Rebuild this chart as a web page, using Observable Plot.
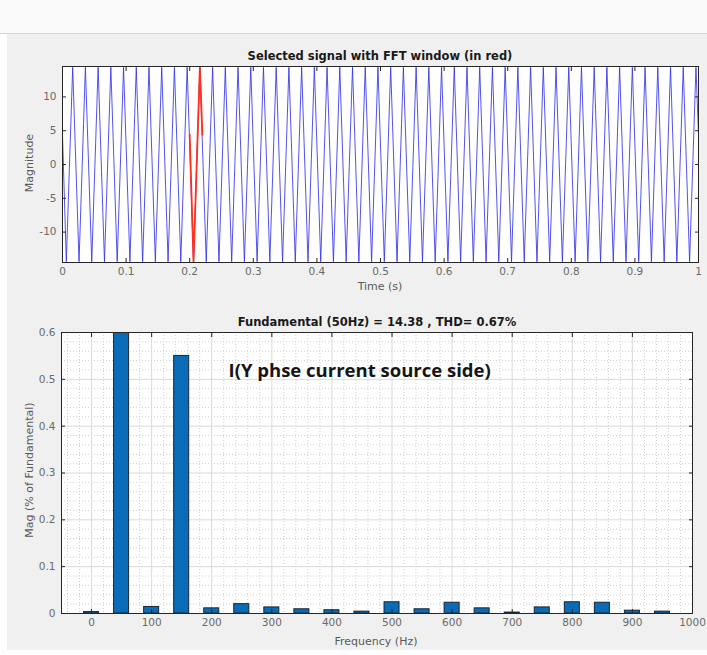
<!DOCTYPE html>
<html><head><meta charset="utf-8">
<script src="https://cdn.jsdelivr.net/npm/d3@7"></script>
<script src="https://cdn.jsdelivr.net/npm/@observablehq/plot@0.6"></script>
<style>
html,body{margin:0;padding:0;background:#fff;}
#fig{position:relative;width:707px;height:655px;overflow:hidden;background:#fff;font-family:"DejaVu Sans",Arial,sans-serif;}
#toolbar{position:absolute;left:0;top:0;width:707px;height:33px;background:#f9f9f9;border-bottom:1px solid #d6d6d6;}
#panel{position:absolute;left:7px;top:34px;width:700px;height:616px;background:#f0f0f0;}
.plot{position:absolute;left:0;}
.title{position:absolute;font-weight:bold;font-size:11.5px;color:#1a1a1a;white-space:nowrap;transform:translate(-50%,-50%);}
.xlabel{position:absolute;font-size:11px;color:#5a5a5a;transform:translate(-50%,-50%);white-space:nowrap;}
.ylabel{position:absolute;font-size:11px;color:#5a5a5a;white-space:nowrap;transform:translate(-50%,-50%) rotate(-90deg);}
</style></head>
<body>
<div id="fig">
  <div id="toolbar"></div>
  <div id="panel"></div>
  <div id="topPlot" class="plot" style="top:40px"></div>
  <div id="botPlot" class="plot" style="top:300px"></div>
  <div class="title" style="left:380px;top:56px">Selected signal with FFT window (in red)</div>
  <div class="xlabel" style="left:380px;top:286px">Time (s)</div>
  <div class="ylabel" style="left:29px;top:163px">Magnitude</div>
  <div class="title" style="left:377px;top:322px">Fundamental (50Hz) = 14.38 , THD= 0.67%</div>
  <div class="xlabel" style="left:376px;top:641px">Frequency (Hz)</div>
  <div class="ylabel" style="left:29px;top:470px">Mag (% of Fundamental)</div>
</div>
<script>
// ---- Top plot: selected signal (vertices of the 50 Hz waveform)
const signalTime = [0,
  0.006, 0.016, 0.026, 0.036, 0.046, 0.056, 0.066, 0.076, 0.086, 0.096,
  0.106, 0.116, 0.126, 0.136, 0.146, 0.156, 0.166, 0.176, 0.186, 0.196,
  0.206, 0.216, 0.226, 0.236, 0.246, 0.256, 0.266, 0.276, 0.286, 0.296,
  0.306, 0.316, 0.326, 0.336, 0.346, 0.356, 0.366, 0.376, 0.386, 0.396,
  0.406, 0.416, 0.426, 0.436, 0.446, 0.456, 0.466, 0.476, 0.486, 0.496,
  0.506, 0.516, 0.526, 0.536, 0.546, 0.556, 0.566, 0.576, 0.586, 0.596,
  0.606, 0.616, 0.626, 0.636, 0.646, 0.656, 0.666, 0.676, 0.686, 0.696,
  0.706, 0.716, 0.726, 0.736, 0.746, 0.756, 0.766, 0.776, 0.786, 0.796,
  0.806, 0.816, 0.826, 0.836, 0.846, 0.856, 0.866, 0.876, 0.886, 0.896,
  0.906, 0.916, 0.926, 0.936, 0.946, 0.956, 0.966, 0.976, 0.986, 0.996,
  1];
const signalValue = [4.4,
  -14.38, 14.38, -14.38, 14.38, -14.38, 14.38, -14.38, 14.38, -14.38, 14.38,
  -14.38, 14.38, -14.38, 14.38, -14.38, 14.38, -14.38, 14.38, -14.38, 14.38,
  -14.38, 14.38, -14.38, 14.38, -14.38, 14.38, -14.38, 14.38, -14.38, 14.38,
  -14.38, 14.38, -14.38, 14.38, -14.38, 14.38, -14.38, 14.38, -14.38, 14.38,
  -14.38, 14.38, -14.38, 14.38, -14.38, 14.38, -14.38, 14.38, -14.38, 14.38,
  -14.38, 14.38, -14.38, 14.38, -14.38, 14.38, -14.38, 14.38, -14.38, 14.38,
  -14.38, 14.38, -14.38, 14.38, -14.38, 14.38, -14.38, 14.38, -14.38, 14.38,
  -14.38, 14.38, -14.38, 14.38, -14.38, 14.38, -14.38, 14.38, -14.38, 14.38,
  -14.38, 14.38, -14.38, 14.38, -14.38, 14.38, -14.38, 14.38, -14.38, 14.38,
  -14.38, 14.38, -14.38, 14.38, -14.38, 14.38, -14.38, 14.38, -14.38, 14.38,
  4.4];
const windowTime = [0.2, 0.206, 0.216, 0.22];
const windowValue = [4.4, -14.38, 14.38, 4.4];
const timeTicks = [0, 0.1, 0.2, 0.3, 0.4, 0.5, 0.6, 0.7, 0.8, 0.9, 1];
const timeTickLabels = ["0", "0.1", "0.2", "0.3", "0.4", "0.5", "0.6", "0.7", "0.8", "0.9", "1"];
const magTicks = [-10, -5, 0, 5, 10];
const magTickLabels = ["-10", "-5", "0", "5", "10"];

// ---- Bottom plot: FFT harmonics (% of fundamental)
const freqs = [0, 50, 100, 150, 200, 250, 300, 350, 400, 450, 500, 550, 600, 650, 700, 750, 800, 850, 900, 950];
const mags  = [0.003, 100, 0.014, 0.55, 0.011, 0.02, 0.013, 0.009, 0.007, 0.004, 0.024, 0.009, 0.023, 0.011, 0.002, 0.013, 0.024, 0.023, 0.006, 0.004];
const freqTicks = [0, 100, 200, 300, 400, 500, 600, 700, 800, 900, 1000];
const freqTickLabels = ["0", "100", "200", "300", "400", "500", "600", "700", "800", "900", "1000"];
const pctTicks = [0, 0.1, 0.2, 0.3, 0.4, 0.5, 0.6];
const pctTickLabels = ["0", "0.1", "0.2", "0.3", "0.4", "0.5", "0.6"];
const noteText = "I(Y phse current source side)";

// ---- build tables
const signal = signalTime.map((t, i) => ({t, v: signalValue[i]}));
const win = windowTime.map((t, i) => ({t, v: windowValue[i]}));
const harmonics = freqs.map((f, i) => ({f, mag: mags[i]}));
const fmt = (ticks, labels) => d => labels[ticks.indexOf(d)];

const tickColor = "#262626";
const labelColor = "#6a6a6a";
const fontFamily = "'DejaVu Sans', Arial, sans-serif";
const tk = 4;

function boxAxes(xT, xL, yT, yL) {
  return [
    Plot.axisX(xT, {anchor: "bottom", tickSize: tk, dy: -tk, fill: "none", stroke: tickColor, label: null}),
    Plot.axisX(xT, {anchor: "top", tickSize: tk, dy: tk, fill: "none", stroke: tickColor, label: null}),
    Plot.axisY(yT, {anchor: "left", tickSize: tk, dx: tk, fill: "none", stroke: tickColor, label: null}),
    Plot.axisY(yT, {anchor: "right", tickSize: tk, dx: -tk, fill: "none", stroke: tickColor, label: null}),
    Plot.axisX(xT, {anchor: "bottom", tickSize: 0, tickPadding: 5, tickFormat: fmt(xT, xL), fill: labelColor, label: null, fontSize: 10.5}),
    Plot.axisY(yT, {anchor: "left", tickSize: 0, tickPadding: 6, tickFormat: fmt(yT, yL), fill: labelColor, label: null, fontSize: 10.5})
  ];
}

const topChart = Plot.plot({
  width: 707, height: 260,
  marginTop: 26, marginBottom: 38, marginLeft: 62, marginRight: 9,
  style: {background: "transparent", fontFamily, fontSize: "10.5px"},
  x: {domain: [0, 1], label: null},
  y: {domain: [-14.5, 14.5], label: null},
  marks: [
    Plot.frame({fill: "white"}),
    Plot.line(signal, {x: "t", y: "v", stroke: "#3434ec", strokeOpacity: 0.85, strokeWidth: 1, clip: true}),
    Plot.line(win, {x: "t", y: "v", stroke: "#ff3020", strokeWidth: 1.8, clip: true}),
    Plot.frame({stroke: tickColor, strokeWidth: 1}),
    ...boxAxes(timeTicks, timeTickLabels, magTicks, magTickLabels)
  ]
});
document.getElementById("topPlot").appendChild(topChart);

const minorFreq = d3.range(-40, 1000, 20).filter(v => v % 100 !== 0);
const minorPct = d3.range(0.02, 0.6, 0.02).filter(v => Math.abs(v * 10 - Math.round(v * 10)) > 1e-6);
const barHalf = 12.5;

const botChart = Plot.plot({
  width: 707, height: 355,
  marginTop: 32, marginBottom: 42, marginLeft: 61, marginRight: 15,
  style: {background: "transparent", fontFamily, fontSize: "10.5px"},
  x: {domain: [-50, 1000], label: null},
  y: {domain: [0, 0.6], label: null},
  marks: [
    Plot.frame({fill: "white"}),
    Plot.gridX(minorFreq, {stroke: "#cfcfcf", strokeOpacity: 1, strokeDasharray: "1,2"}),
    Plot.gridY(minorPct, {stroke: "#cfcfcf", strokeOpacity: 1, strokeDasharray: "1,2"}),
    Plot.gridX(freqTicks, {stroke: "#dadada", strokeOpacity: 1}),
    Plot.gridY(pctTicks, {stroke: "#dadada", strokeOpacity: 1}),
    Plot.rectY(harmonics, {x1: d => d.f - barHalf, x2: d => d.f + barHalf, y1: 0, y2: "mag",
      fill: "#0a6cb6", stroke: "#1a2533", strokeWidth: 1, clip: true}),
    Plot.text([noteText], {x: 228, y: 0.517, text: d => d, textAnchor: "start",
      fontSize: 18.5, fontWeight: "bold", fontFamily: "'Open Sans', sans-serif", fill: "#151515"}),
    Plot.frame({stroke: tickColor, strokeWidth: 1}),
    ...boxAxes(freqTicks, freqTickLabels, pctTicks, pctTickLabels)
  ]
});
document.getElementById("botPlot").appendChild(botChart);
</script>
</body></html>
